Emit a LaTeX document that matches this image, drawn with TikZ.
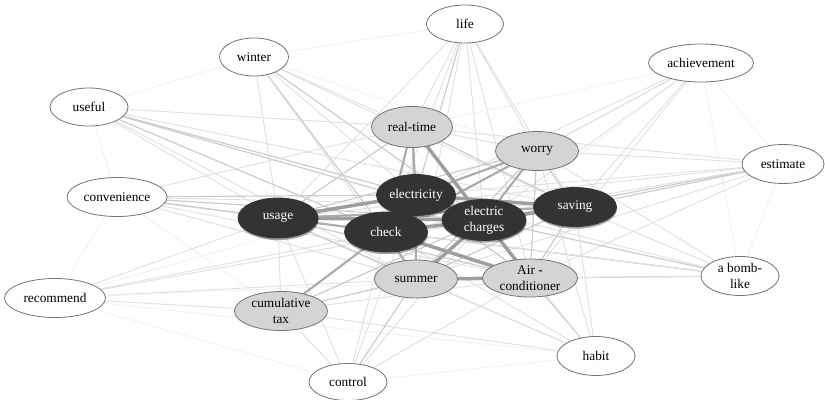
\documentclass[tikz,border=0pt]{standalone}
\usepackage{fontspec}
\setmainfont{Liberation Serif}
\usetikzlibrary{shapes.geometric,shadows}
\begin{document}
\begin{tikzpicture}[x=0.75pt,y=-0.75pt,
  kw/.style 2 args={ellipse,draw=black!55,line width=0.6pt,inner sep=0pt,align=center,
     minimum width=#1*0.75pt,minimum height=#2*0.75pt,font=\fontsize{10}{12}\selectfont},
  whitenode/.style={fill=white},
  graynode/.style={fill=black!17},
  darknode/.style={fill=black!80,draw=black!80,text=white,
     drop shadow={shadow xshift=0.4pt,shadow yshift=-1.6pt,opacity=0.35,fill=black}},
  e0/.style={draw=black!6,line width=0.6pt},
  e1/.style={draw=black!12,line width=0.7pt},
  e2/.style={draw=black!20,line width=0.9pt},
  e3/.style={draw=black!33,line width=1.6pt},
  e4/.style={draw=black!38,line width=2.6pt}]
\useasboundingbox (0,0) rectangle (825,400);
% node positions
\path (254,57) coordinate (pwinter)
      (89,107) coordinate (puseful)
      (117,197) coordinate (pconv)
      (55,298) coordinate (precom)
      (465,24) coordinate (plife)
      (701,63) coordinate (pach)
      (783,164) coordinate (pest)
      (740,276) coordinate (pbomb)
      (596,356) coordinate (phabit)
      (348,382) coordinate (pcontrol)
      (412,127) coordinate (prt)
      (537,151) coordinate (pworry)
      (416,279) coordinate (psummer)
      (530,278) coordinate (pac)
      (281,311) coordinate (pcum)
      (416,195) coordinate (pelec)
      (278,218) coordinate (pusage)
      (386,232) coordinate (pcheck)
      (484,220) coordinate (pch)
      (575,207) coordinate (psaving);
\foreach \n in {winter,useful,conv,recom,life,ach,est,bomb,habit,control,rt,worry,summer,ac,cum,elec,usage,check,ch,saving}
  {\coordinate (c\n) at (p\n);}
% peripheral edges
\foreach \a/\b/\s in {
 winter/useful/e0, winter/usage/e1, winter/elec/e1, winter/check/e2, winter/ch/e2, winter/saving/e1, winter/rt/e1, winter/summer/e1, winter/worry/e0, winter/life/e0,
 useful/usage/e1, useful/elec/e2, useful/check/e2, useful/ch/e2, useful/saving/e1, useful/rt/e1, useful/summer/e1, useful/conv/e0,
 conv/usage/e2, conv/elec/e2, conv/check/e2, conv/ch/e2, conv/saving/e1, conv/rt/e1, conv/summer/e1, conv/cum/e0, conv/ac/e1,
 recom/usage/e1, recom/check/e1, recom/ch/e1, recom/summer/e1, recom/cum/e1, recom/ac/e0, recom/elec/e0, recom/conv/e0, recom/control/e0,
 life/rt/e1, life/elec/e2, life/check/e1, life/ch/e1, life/worry/e1, life/summer/e1, life/ac/e1, life/usage/e1, life/saving/e1,
 ach/worry/e1, ach/elec/e1, ach/ch/e1, ach/saving/e1, ach/check/e1, ach/ac/e1, ach/rt/e0, ach/est/e0, ach/bomb/e0, ach/summer/e0,
 est/worry/e1, est/rt/e1, est/elec/e1, est/ch/e2, est/check/e1, est/saving/e2, est/usage/e1, est/ac/e1, est/summer/e1, est/bomb/e0,
 bomb/saving/e1, bomb/ch/e2, bomb/check/e2, bomb/elec/e1, bomb/ac/e2, bomb/summer/e1, bomb/usage/e1, bomb/worry/e1,
 habit/saving/e1, habit/ac/e2, habit/summer/e1, habit/ch/e1, habit/check/e1, habit/usage/e1, habit/cum/e1, habit/worry/e1, habit/recom/e0,
 control/cum/e1, control/usage/e1, control/check/e1, control/summer/e2, control/ac/e1, control/ch/e1, control/elec/e1, control/habit/e0}
 {\draw[\s] (c\a) -- (c\b);}
% core edges
\foreach \a/\b/\s in {
 rt/worry/e1, rt/usage/e2, rt/saving/e2, rt/summer/e2, worry/saving/e2, worry/usage/e2, worry/summer/e2, worry/ac/e2,
 elec/ac/e2, usage/summer/e2, usage/ac/e2, usage/cum/e1, ch/cum/e2, saving/summer/e2, saving/ac/e2, summer/cum/e2, ac/cum/e1,
 rt/elec/e3, rt/check/e3, worry/ch/e3, worry/check/e3, worry/elec/e3, elec/check/e3, elec/summer/e3, usage/check/e3, usage/saving/e3,
 check/saving/e3, check/summer/e3, check/cum/e3,
 rt/ch/e4, elec/usage/e4, elec/ch/e4, elec/saving/e4, usage/ch/e4, check/ch/e4, check/ac/e4, ch/saving/e4, ch/summer/e4, ch/ac/e4, summer/ac/e4}
 {\draw[\s] (c\a) -- (c\b);}
% nodes
\node[kw={69}{38},whitenode] (winter) at (pwinter) {winter};
\node[kw={78}{38},whitenode] (useful) at (puseful) {useful};
\node[kw={100}{39},whitenode] (conv) at (pconv) {convenience};
\node[kw={101}{39},whitenode] (recom) at (precom) {recommend};
\node[kw={77}{38},whitenode] (life) at (plife) {life};
\node[kw={105}{38},whitenode] (ach) at (pach) {achievement};
\node[kw={82}{39},whitenode] (est) at (pest) {estimate};
\node[kw={78}{39},whitenode] (bomb) at (pbomb) {a bomb-\\like};
\node[kw={78}{39},whitenode] (habit) at (phabit) {habit};
\node[kw={78}{37},whitenode] (control) at (pcontrol) {control};
\node[kw={81}{41},graynode] (rt) at (prt) {real-time};
\node[kw={83}{39},graynode] (worry) at (pworry) {worry};
\node[kw={83}{38},graynode] (summer) at (psummer) {summer};
\node[kw={95}{38},graynode] (ac) at (pac) {Air -\\conditioner};
\node[kw={93}{39},graynode] (cum) at (pcum) {cumulative\\tax};
\node[kw={79}{41},darknode] (elec) at (pelec) {electricity};
\node[kw={80}{40},darknode] (usage) at (pusage) {usage};
\node[kw={83}{40},darknode] (check) at (pcheck) {check};
\node[kw={84}{41},darknode] (ch) at (pch) {electric\\charges};
\node[kw={83}{39},darknode] (saving) at (psaving) {saving};
\end{tikzpicture}
\end{document}
